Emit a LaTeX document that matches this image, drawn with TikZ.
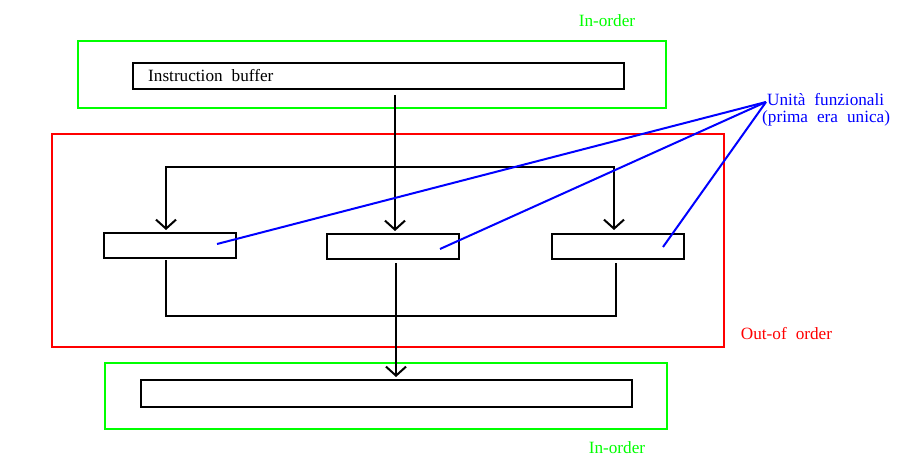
\documentclass[tikz,border=0pt]{standalone}
\usepackage{fontspec}
\setmainfont{Liberation Serif}
\usetikzlibrary{arrows.meta}
\definecolor{fgreen}{RGB}{0,255,0}
\definecolor{fred}{RGB}{255,0,0}
\definecolor{fblue}{RGB}{0,0,255}
\newcommand{\mylblfont}{\fontsize{17.2}{17}\selectfont\spaceskip=9pt plus 0pt minus 0pt\relax}
\begin{document}
\begin{tikzpicture}[x=1pt,y=-1pt,
  box/.style={draw=black,line width=2pt},
  gbox/.style={draw=fgreen,line width=2pt},
  rbox/.style={draw=fred,line width=2pt},
  conn/.style={draw=black,line width=2pt,-{Straight Barb[length=9pt,width=20pt,line width=2pt]}},
  wire/.style={draw=black,line width=2pt},
  bl/.style={draw=fblue,line width=2pt},
  lbl/.style={font=\mylblfont,inner sep=0pt}]
\useasboundingbox (0,0) rectangle (907,468);
% frames
\draw[gbox] (78,41) rectangle (666,108);
\draw[rbox] (52,134) rectangle (724,347);
\draw[gbox] (105,363) rectangle (667,429);
\node[lbl,text=fgreen] (io1) at (607,21) {In-order};
\node[lbl,text=fgreen] (io2) at (617,448) {In-order};
\node[lbl,text=fred] (ooo) at (786.5,334) {Out-of order};
% boxes
\draw[box] (133,63) rectangle (624,89);
\node[lbl,anchor=west] (ib) at (148,76) {Instruction buffer};
\node[box,minimum width=132pt,minimum height=25pt,inner sep=0pt] (u1) at (170,245.5) {};
\node[box,minimum width=132pt,minimum height=25pt,inner sep=0pt] (u2) at (393,246.5) {};
\node[box,minimum width=132pt,minimum height=25pt,inner sep=0pt] (u3) at (618,246.5) {};
\draw[box] (141,380) rectangle (632,407);
\coordinate (ibout) at (395,95);
\coordinate (bot) at (396,377);
% connectors
\draw[conn] (ibout) -- (395,231);
\draw[conn] (395,167) -| (166,230);
\draw[conn] (395,167) -| (614,230);
\draw[wire] (166,260) |- (616,316) -- (616,263);
\draw[conn] (396,263) -- (bot);
% blue labels
\node[lbl,text=fblue,anchor=west,align=left] (fu) at (762,110) {\hspace*{5pt}Unità funzionali\\(prima era unica)};
\coordinate (fup) at (766,102);
\draw[bl] (fup) -- (217,244);
\draw[bl] (fup) -- (440,249);
\draw[bl] (fup) -- (663,247);
\end{tikzpicture}
\end{document}
